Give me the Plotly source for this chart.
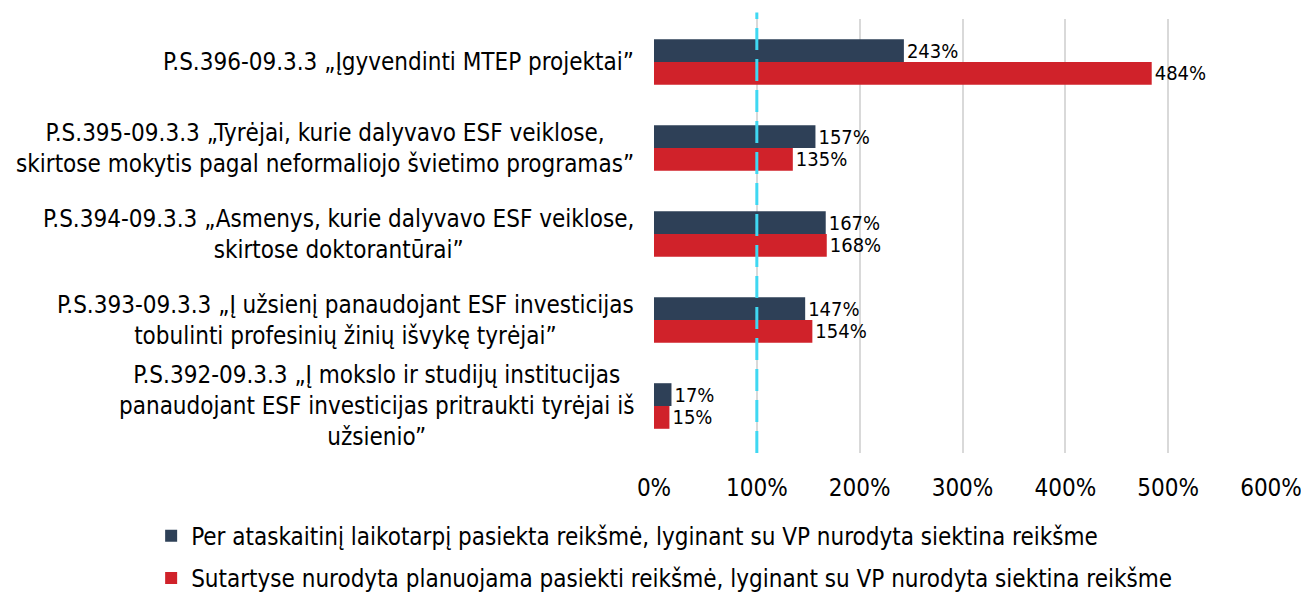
import plotly.graph_objects as go

categories = [
    "P.S.396-09.3.3 „Įgyvendinti MTEP projektai”",
    "P.S.395-09.3.3 „Tyrėjai, kurie dalyvavo ESF veiklose,<br>skirtose mokytis pagal neformaliojo švietimo programas”",
    "P.S.394-09.3.3 „Asmenys, kurie dalyvavo ESF veiklose,<br>skirtose doktorantūrai”",
    "P.S.393-09.3.3 „Į užsienį panaudojant ESF investicijas<br>tobulinti profesinių žinių išvykę tyrėjai”",
    "P.S.392-09.3.3 „Į mokslo ir studijų institucijas<br>panaudojant ESF investicijas pritraukti tyrėjai iš<br>užsienio”",
]
series_names = [
    "Per ataskaitinį laikotarpį pasiekta reikšmė, lyginant su VP nurodyta siektina reikšme",
    "Sutartyse nurodyta planuojama pasiekti reikšmė, lyginant su VP nurodyta siektina reikšme",
]
achieved = [2.43, 1.57, 1.67, 1.47, 0.17]
planned = [4.84, 1.35, 1.68, 1.54, 0.15]
target_line = 1.0
tick_vals = [0, 1, 2, 3, 4, 5, 6]
tick_text = ["0%", "100%", "200%", "300%", "400%", "500%", "600%"]

FONT = "DejaVu Sans Condensed, DejaVu Sans, sans-serif"
FS = 24
colors = ["#2E4057", "#D0222A"]
ids = list(range(len(categories)))

fig = go.Figure()
for i, (name, vals) in enumerate(zip(series_names, [achieved, planned])):
    fig.add_trace(go.Bar(
        y=ids, x=vals, orientation="h", name=name,
        marker=dict(color=colors[i], line=dict(width=0)),
        text=[f"{round(v*100)}%" for v in vals],
        textposition="outside", cliponaxis=False, constraintext="none",
        textfont=dict(family=FONT, size=20, color="#000000"),
        legendgroup=f"g{i}",
    ))

fig.add_shape(type="line", xref="x", yref="paper", x0=target_line, x1=target_line,
              y0=0, y1=1.015, line=dict(color="#3FD8F2", width=3, dash="22px,9px"))

for i, c in enumerate(categories):
    fig.add_annotation(x=0, xref="paper", xshift=-18, y=i, yref="y", text=c,
                       xanchor="right", align="center", showarrow=False,
                       font=dict(family=FONT, size=FS, color="#000000"))

fig.update_layout(
    width=1301, height=594,
    margin=dict(l=654, r=30, t=19, b=141, autoexpand=False),
    plot_bgcolor="white", paper_bgcolor="white",
    barmode="group", bargap=0.47, bargroupgap=0,
    font=dict(family=FONT, size=FS, color="#000000"),
    showlegend=True,
    legend=dict(orientation="v", x=-0.815, xanchor="left", y=-0.14, yanchor="top",
                traceorder="grouped", tracegroupgap=8,
                font=dict(family=FONT, size=FS, color="#000000")),
    xaxis=dict(range=[0, 6], tickvals=tick_vals, ticktext=tick_text,
               showgrid=True, gridcolor="#D9D9D9", gridwidth=2,
               zeroline=False, showline=False, ticks="", ticklabelstandoff=18,
               ticklabeloverflow="allow",
               tickfont=dict(family=FONT, size=FS, color="#000000")),
    yaxis=dict(tickvals=ids, showticklabels=False, autorange="reversed",
               showgrid=False, zeroline=False, showline=False),
)

fig.write_html("out.html", config={"displayModeBar": False},
               post_script="document.body.style.margin='0';document.body.style.overflow='hidden';")
